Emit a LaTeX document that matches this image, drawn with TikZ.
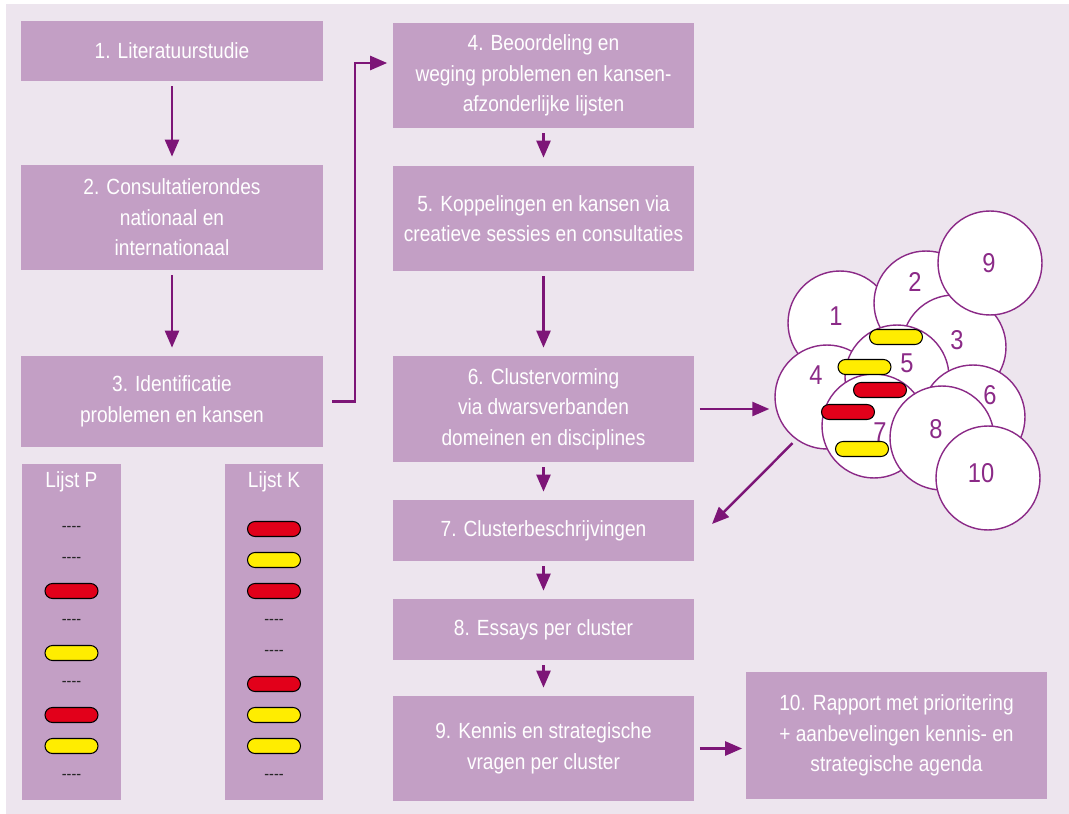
\documentclass[tikz,border=0pt]{standalone}
\usepackage{fontspec}
\setmainfont{Liberation Sans}[FakeStretch=0.87]
\usetikzlibrary{positioning, arrows.meta}
\definecolor{achter}{HTML}{EDE5EE}
\definecolor{vak}{HTML}{C39FC5}
\definecolor{paars}{HTML}{7D1577}
\definecolor{rand}{HTML}{8B2A87}
\definecolor{rood}{HTML}{E2001A}
\definecolor{geel}{HTML}{FFED00}
\newcommand{\streepjes}{\hbox{-}\hbox{-}\hbox{-}\hbox{-}}

\begin{document}
\begin{tikzpicture}[x=0.02cm, y=-0.02cm,
      stap/.style={rectangle, fill=vak, text=white, align=center, inner sep=0pt,
        minimum width=6.04cm, font=\fontsize{12.5}{17.4}\selectfont},
      lijst/.style={rectangle, fill=vak, inner sep=0pt, minimum width=1.98cm, minimum height=6.72cm},
      titel/.style={text=white, font=\fontsize{12.5}{17.4}\selectfont},
      pijl/.style={draw=paars, line width=1.4pt, -{Triangle[length=0.34cm, width=0.28cm]},
        shorten <=0.1cm, shorten >=0.16cm},
      cirkel/.style={circle, draw=rand, line width=0.8pt, fill=white, minimum size=2.08cm, inner sep=0pt},
      nr/.style={text=rand, font=\fontsize{15.5}{17}\selectfont},
      pil/.style={rectangle, draw=black, line width=0.6pt, rounded corners=0.15cm,
        minimum width=1.06cm, minimum height=0.3cm, inner sep=0pt},
      pilrood/.style={pil, fill=rood},
      pilgeel/.style={pil, fill=geel},
      streep/.style={text=black!85, font=\fontsize{9.5}{9}\selectfont, execute at begin node={\streepjes}}]
    \useasboundingbox (0,0) rectangle (1069,814);
    \fill[white] (0,0) rectangle (1069,814);
    \fill[achter] (6,4) rectangle (1069,814);
    % linker kolom
    \node[stap, minimum height=1.2cm] (s1) at (172,51) {1. Literatuurstudie};
    \node[stap, minimum height=2.1cm] (s2) at (172,217.5) {2. Consultatierondes\\ nationaal en\\ internationaal};
    \node[stap, minimum height=1.82cm] (s3) at (172,401.5) {3. Identificatie\\ problemen en kansen};
    \node[lijst] (lp) at (71.5,632) {};
    \node[lijst] (lk) at (274,632) {};
    \node[titel] (tp) at (71.5,482) {Lijst P};
    \node[titel] (tk) at (274,482) {Lijst K};
    \foreach \soort [count=\i] in {streep,streep,pilrood,streep,pilgeel,streep,pilrood,pilgeel,streep}
      \node[\soort] (p\i) at (71.5,498+31*\i) {};
    \foreach \soort [count=\i] in {pilrood,pilgeel,pilrood,streep,streep,pilrood,pilgeel,pilgeel,streep}
      \node[\soort] (k\i) at (274,498+31*\i) {};
    % middelste kolom
    \node[stap, minimum height=2.1cm] (s4) at (543.5,75.5) {4. Beoordeling en\\ weging problemen en kansen-\\ afzonderlijke lijsten};
    \node[stap, minimum height=2.1cm] (s5) at (543.5,218.5) {5. Koppelingen en kansen via\\ creatieve sessies en consultaties};
    \node[stap, minimum height=2.12cm] (s6) at (543.5,409) {6. Clustervorming\\ via dwarsverbanden\\ domeinen en disciplines};
    \node[stap, minimum height=1.22cm] (s7) at (543.5,530.5) {7. Clusterbeschrijvingen};
    \node[stap, minimum height=1.22cm] (s8) at (543.5,629.5) {8. Essays per cluster};
    \node[stap, minimum height=2.1cm] (s9) at (543.5,748.5) {9. Kennis en strategische\\ vragen per cluster};
    \node[stap, minimum height=2.56cm] (s10) at (896.5,735.5) {10. Rapport met prioritering\\ + aanbevelingen kennis- en\\ strategische agenda};
    % clusters
    \foreach \n/\x/\y/\lx/\ly in {1/840/323/836/316, 2/926/303/915/282, 3/954/347/957/340,
        9/990/263/989/263, 4/827/397/816/375, 5/897/377/907/363, 6/973/417/990/395,
        7/874/426/880/432, 8/942/438/936/429, 10/988/478/981/473} {
      \node[cirkel] (c\n) at (\x,\y) {};
      \node[nr] (l\n) at (\lx,\ly) {\n};
    }
    \node[pilgeel] (g1) at (896,337) {};
    \node[pilgeel] (g2) at (864.5,367) {};
    \node[pilrood] (r1) at (880,390) {};
    \node[pilrood] (r2) at (848,412) {};
    \node[pilgeel] (g3) at (862,449) {};
    % pijlen
    \coordinate (knik) at (355,63);
    \coordinate (doel) at (712,524);
    \draw[pijl] (s1) -- (s2);
    \draw[pijl] (s2) -- (s3);
    \draw[pijl, shorten <=0.18cm, shorten >=0.1cm] (s3.east) -| (knik) -- (s4.west |- knik);
    \draw[pijl] (s4) -- (s5);
    \draw[pijl] (s5) -- (s6);
    \draw[pijl] (s6) -- (s7);
    \draw[pijl] (s7) -- (s8);
    \draw[pijl] (s8) -- (s9);
    \draw[pijl, shorten >=0.1cm] (s6.east) -- (s6.east -| c4.west);
    \draw[pijl, shorten >=0pt] (c4.234) -- (doel);
    \draw[pijl, shorten >=0.06cm] (s9.east) -- (s9.east -| s10.west);
\end{tikzpicture}
\end{document}
